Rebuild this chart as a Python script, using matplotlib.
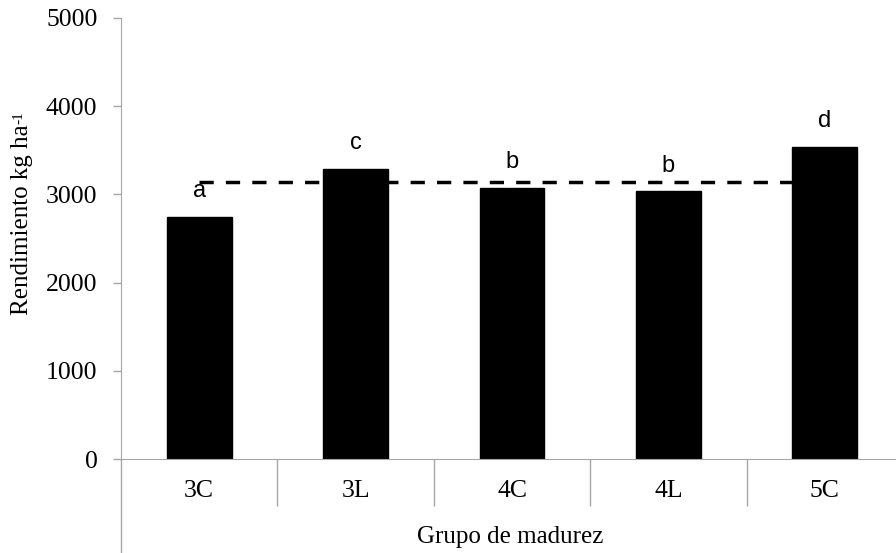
import matplotlib.pyplot as plt
from matplotlib.lines import Line2D

# datos
grupos = ["3C", "3L", "4C", "4L", "5C"]
rendimiento = [2747, 3291, 3076, 3035, 3541]
letras = ["a", "c", "b", "b", "d"]
promedio = [3138, 3138, 3138, 3138, 3138]

W, H = 896, 553
fig = plt.figure(figsize=(W / 100, H / 100), dpi=100)

# ejes: izquierda en x=121 px, y=0 en 459 px, y=5000 en 18 px
left, right = 121, 903
ax = fig.add_axes([left / W, (H - 459) / H, (right - left) / W, 441 / H])

gris = "#a6a6a6"
serif = "Liberation Serif"

x = list(range(len(grupos)))

# linea de promedio (detras de las barras)
ax.plot(x, promedio, color="black", lw=2.5, linestyle=(0, (4.1, 3.5)), zorder=1)

ax.bar(x, rendimiento, width=0.415, color="black", edgecolor="black", zorder=2)

for xi, v, l in zip(x, rendimiento, letras):
    ax.annotate(l, (xi, v), xytext=(0, 14), textcoords="offset points",
                ha="center", va="baseline", fontsize=17,
                family="Liberation Sans")

ax.set_xlim(-0.5, 4.5)
ax.set_ylim(0, 5000)
ax.set_yticks([0, 1000, 2000, 3000, 4000, 5000])

ax.set_xticks(x)
ax.set_xticklabels(grupos, fontsize=18.5, family=serif)
ax.set_xticks([0.5, 1.5, 2.5, 3.5], minor=True)
ax.tick_params(axis="x", which="major", length=0, pad=15)
ax.tick_params(axis="x", which="minor", length=34, width=1, color=gris,
               direction="out")
ax.tick_params(axis="y", length=6, width=1, color=gris, pad=11, labelsize=18.5)
for t in ax.get_yticklabels():
    t.set_family(serif)

for s in ["top", "right"]:
    ax.spines[s].set_visible(False)
ax.spines["left"].set_color(gris)
ax.spines["bottom"].set_color(gris)

# eje izquierdo continua por debajo del cero
ax.add_line(Line2D([0, 0], [0, -94 / 441], transform=ax.transAxes,
                   color=gris, lw=1, clip_on=False))

# titulo eje y: texto + exponente "-1" pequeno
ylab = fig.text(22 / W, 1 - 220 / H, "Rendimiento kg ha", rotation=90,
                ha="center", va="center", fontsize=18, family=serif)
fig.canvas.draw()
bb = ylab.get_window_extent()
fig.text((bb.x0 + 1) / W, (bb.y1 + 1) / H, "-1", rotation=90,
         ha="left", va="bottom", fontsize=11, family=serif)

ax.set_xlabel("Grupo de madurez", fontsize=18, family=serif)
ax.xaxis.set_label_coords((510 - left) / (right - left), -(537 - 459) / 441)
ax.xaxis.label.set_va("center")

fig.savefig("out.png", dpi=100)
